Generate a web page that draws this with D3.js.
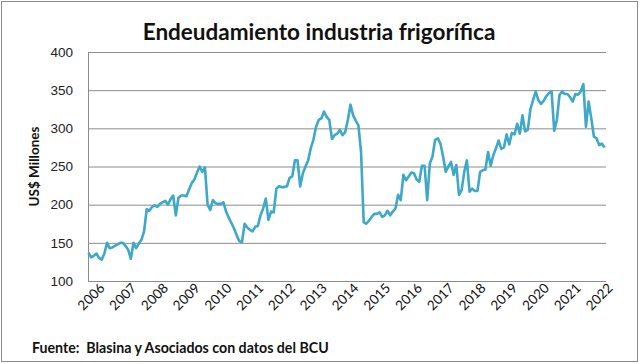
<!DOCTYPE html>
<html>
<head>
<meta charset="utf-8">
<script src="https://cdn.jsdelivr.net/npm/d3@7"></script>
<style>
  body { margin: 0; background: #fff; }
  svg { display: block; font-family: Lato, "Liberation Sans", sans-serif; }
  .grid line { stroke: #8c8c8c; stroke-width: 1; }
  .grid .domain { display: none; }
  .yAxis .domain { display: none; }
  .yAxis text { font-size: 13.5px; fill: #222; }
  .year { font-size: 13.5px; fill: #111; }
</style>
</head>
<body>
<script>
// Monthly debt of the meat-packing industry, Jan 2006 - Apr 2022 (US$ millions)
const debt = [
  137, 131, 133, 136, 130, 128, 136, 150, 143, 144, 146, 148,
  150, 150, 146, 141, 129, 150, 143, 149, 154, 165, 194, 192,
  197, 199, 197, 201, 203, 205, 200, 207, 212, 186, 209, 212,
  212, 211, 220, 228, 233, 242, 250, 243, 249, 200, 193, 206,
  202, 201, 201, 203, 191, 183, 176, 169, 160, 152, 151, 175,
  170, 167, 165, 171, 172, 186, 195, 208, 180, 191, 190, 221,
  224, 223, 223, 224, 235, 237, 258, 258, 224, 241, 250, 258,
  274, 285, 302, 311, 313, 322, 315, 311, 286, 291, 293, 298,
  291, 295, 311, 331, 317, 310, 304, 269, 177, 175, 179, 184,
  188, 188, 190, 184, 186, 192, 186, 191, 195, 213, 206, 239,
  232, 237, 242, 241, 233, 230, 251, 251, 206, 254, 263, 285,
  287, 280, 263, 243, 250, 256, 239, 252, 213, 219, 243, 258,
  217, 221, 218, 218, 243, 245, 246, 269, 251, 265, 274, 284,
  273, 275, 292, 279, 294, 292, 306, 293, 317, 296, 298, 325,
  337, 348, 337, 332, 336, 342, 346, 348, 297, 311, 344, 348,
  345, 345, 341, 335, 345, 344, 348, 358, 302, 335, 313, 289,
  287, 278, 280, 275
];
const years = ["2006", "2007", "2008", "2009", "2010", "2011", "2012", "2013", "2014",
  "2015", "2016", "2017", "2018", "2019", "2020", "2021", "2022"]; // one label per January
const yTicks = [100, 150, 200, 250, 300, 350, 400];

const width = 640;
const height = 364;
const plot = { left: 88, right: 606, top: 52, bottom: 281 };

const svg = d3.select("body").append("svg")
  .attr("width", width)
  .attr("height", height);

// outer frame of the chart
svg.append("rect")
  .attr("x", 1.5).attr("y", 1.5)
  .attr("width", width - 4).attr("height", height - 4)
  .attr("fill", "#fff")
  .attr("stroke", "#8a8a8a");

const x = d3.scalePoint()
  .domain(d3.range(debt.length))
  .range([plot.left + 0.5, plot.right - 1.5]);

const y = d3.scaleLinear()
  .domain([100, 400])
  .range([plot.bottom, plot.top]);

// horizontal gridlines
svg.append("g")
  .attr("class", "grid")
  .attr("transform", `translate(${plot.left},0)`)
  .call(d3.axisLeft(y).tickValues(yTicks).tickSize(-(plot.right - plot.left)).tickFormat(""));

// y tick labels
svg.append("g")
  .attr("class", "yAxis")
  .attr("transform", `translate(${plot.left},0)`)
  .call(d3.axisLeft(y).tickValues(yTicks).tickSize(0).tickPadding(15));

// left and bottom axis lines
svg.append("line")
  .attr("x1", plot.left + 0.5).attr("x2", plot.left + 0.5)
  .attr("y1", plot.top).attr("y2", plot.bottom)
  .attr("stroke", "#8c8c8c");
svg.append("line")
  .attr("x1", plot.left).attr("x2", plot.right)
  .attr("y1", plot.bottom + 0.5).attr("y2", plot.bottom + 0.5)
  .attr("stroke", "#8c8c8c");

// year labels, rotated like the Excel original
svg.selectAll(".year")
  .data(years)
  .enter()
  .append("text")
  .attr("class", "year")
  .attr("text-anchor", "end")
  .attr("transform", (d, i) => `translate(${x(i * 12) + 17},${plot.bottom + 8}) rotate(-45)`)
  .text(d => d);

// the series
const line = d3.line()
  .x((d, i) => x(i))
  .y(d => y(d));

svg.append("path")
  .datum(debt)
  .attr("fill", "none")
  .attr("stroke", "#3ea8c8")
  .attr("stroke-width", 2.6)
  .attr("stroke-linejoin", "round")
  .attr("d", line);

// title
svg.append("text")
  .attr("x", 319).attr("y", 40)
  .attr("text-anchor", "middle")
  .attr("font-size", 22.5)
  .attr("font-weight", "bold")
  .attr("fill", "#111")
  .text("Endeudamiento industria frigorífica");

// y axis title
svg.append("text")
  .attr("transform", `translate(39,${(plot.top + plot.bottom) / 2}) rotate(-90)`)
  .attr("text-anchor", "middle")
  .attr("font-size", 13.5)
  .attr("font-weight", "bold")
  .attr("fill", "#111")
  .text("US$ Millones");

// source note
svg.append("text")
  .attr("x", 32).attr("y", 353)
  .attr("font-size", 14.2)
  .attr("font-weight", "bold")
  .attr("fill", "#111")
  .attr("xml:space", "preserve")
  .style("white-space", "pre")
  .text("Fuente:  Blasina y Asociados con datos del BCU");
</script>
</body>
</html>
